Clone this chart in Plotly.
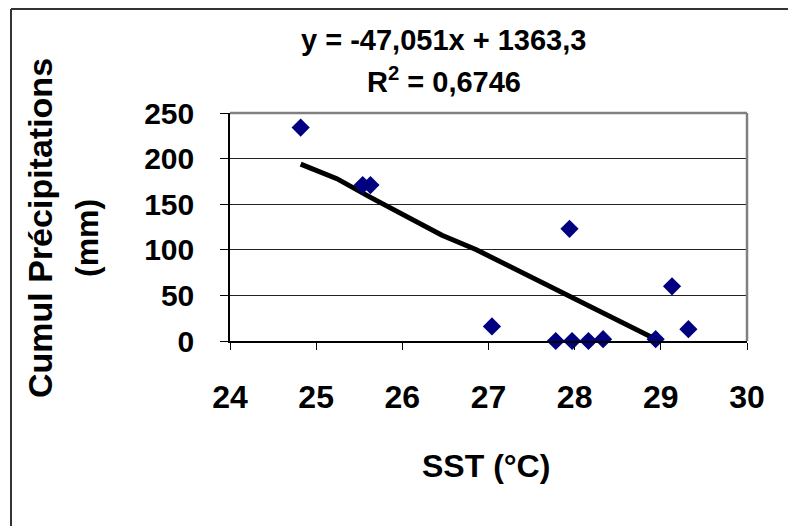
import plotly.graph_objects as go

# Data
sst = [24.82, 25.54, 25.63, 27.04, 27.94, 27.78, 27.97, 28.16, 28.33, 28.94, 29.13, 29.32]
precip = [234, 171, 171, 16, 123, 0, 0, 0, 2, 2, 60, 13]

trend_x = [24.82, 25.24, 25.62, 25.99, 26.46, 26.86, 27.28, 28.02, 28.94]
trend_y = [194, 178, 158, 140, 116, 100, 80, 45, 2]

x_ticks = [24, 25, 26, 27, 28, 29, 30]
y_ticks = [0, 50, 100, 150, 200, 250]

eq_text = "y = -47,051x + 1363,3"
r2_text = "R<sup>2</sup> = 0,6746"
x_title = "SST (°C)"
y_title_1 = "Cumul Précipitations"
y_title_2 = "(mm)"

W, H = 788, 526
L, R, T, B = 230, 41, 113, 185
pw, ph = W - L - R, H - T - B


def px(xp):
    return (xp - L) / pw


def py(yp):
    return (H - B - yp) / ph


FONT = "Liberation Sans, Arial, sans-serif"

fig = go.Figure()
fig.add_trace(go.Scatter(
    x=trend_x, y=trend_y, mode="lines",
    line=dict(color="black", width=5), hoverinfo="skip", showlegend=False,
))
fig.add_trace(go.Scatter(
    x=sst, y=precip, mode="markers",
    marker=dict(symbol="diamond", size=14, color="#000080", line=dict(width=0)),
    showlegend=False, cliponaxis=False,
))

fig.update_layout(
    width=W, height=H,
    margin=dict(l=L, r=R, t=T, b=B, pad=0),
    paper_bgcolor="white", plot_bgcolor="white",
    showlegend=False,
    xaxis=dict(
        range=[24, 30], tickvals=x_ticks, ticktext=[str(v) for v in x_ticks],
        showgrid=False, zeroline=False,
        showline=True, linecolor="black", linewidth=1.5,
        ticks="outside", ticklen=7, tickcolor="black", tickwidth=1,
        tickfont=dict(family=FONT, size=32, color="black", weight="bold"),
        ticklabelstandoff=20,
    ),
    yaxis=dict(
        range=[0, 250], tickvals=y_ticks, ticktext=[str(v) for v in y_ticks],
        showgrid=True, gridcolor="#222", gridwidth=1, zeroline=False,
        showline=True, linecolor="black", linewidth=1.5,
        ticks="outside", ticklen=8, tickcolor="black", tickwidth=1,
        tickfont=dict(family=FONT, size=30, color="black", weight="bold"),
        ticklabelstandoff=20,
    ),
    shapes=[
        # plot area top & right border (gray)
        dict(type="line", xref="paper", yref="paper", x0=0, x1=1, y0=1, y1=1,
             line=dict(color="#808080", width=2.5)),
        dict(type="line", xref="paper", yref="paper", x0=1, x1=1, y0=0, y1=1,
             line=dict(color="#808080", width=2.5)),
        # outer chart frame (left & top)
        dict(type="line", xref="paper", yref="paper", x0=px(11), x1=px(11), y0=py(9), y1=py(560),
             line=dict(color="#333", width=2)),
        dict(type="line", xref="paper", yref="paper", x0=px(11), x1=px(820), y0=py(9), y1=py(9),
             line=dict(color="#333", width=2)),
    ],
    annotations=[
        dict(text=eq_text, xref="paper", yref="paper", x=px(443), y=py(40),
             xanchor="center", yanchor="middle", showarrow=False,
             font=dict(family=FONT, size=29, color="black", weight="bold")),
        dict(text=r2_text, xref="paper", yref="paper", x=px(444), y=py(80),
             xanchor="center", yanchor="middle", showarrow=False,
             font=dict(family=FONT, size=29, color="black", weight="bold")),
        dict(text=x_title, xref="paper", yref="paper", x=px(486), y=py(466),
             xanchor="center", yanchor="middle", showarrow=False,
             font=dict(family=FONT, size=32, color="black", weight="bold")),
        dict(text=y_title_1, xref="paper", yref="paper", x=px(40), y=py(228),
             xanchor="center", yanchor="middle", showarrow=False, textangle=-90,
             font=dict(family=FONT, size=34, color="black", weight="bold")),
        dict(text=y_title_2, xref="paper", yref="paper", x=px(87), y=py(238),
             xanchor="center", yanchor="middle", showarrow=False, textangle=-90,
             font=dict(family=FONT, size=32, color="black", weight="bold")),
    ],
)

fig.write_html("out.html")
